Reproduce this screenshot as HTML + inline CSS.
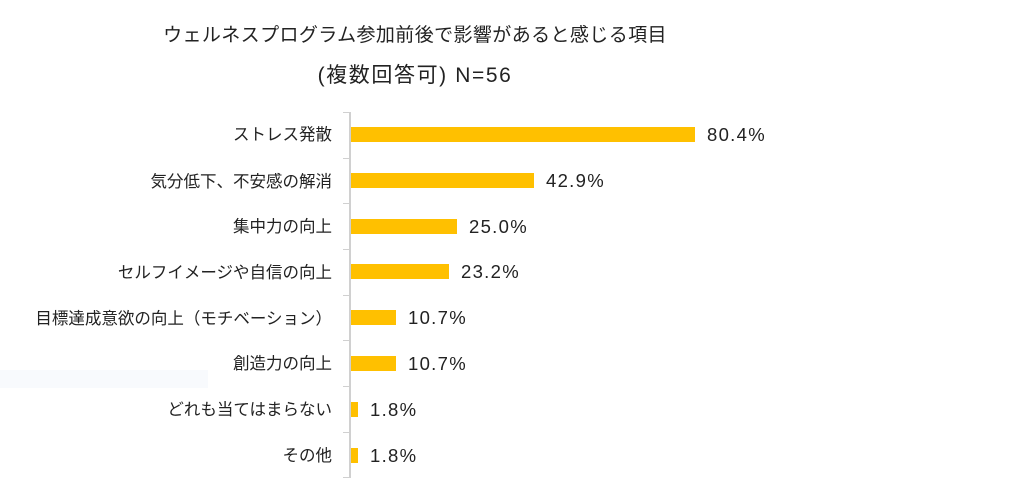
<!DOCTYPE html>
<html><head><meta charset="utf-8"><style>
body{margin:0;width:1012px;height:485px;background:#fff;position:relative;overflow:hidden;font-family:"Liberation Sans","Noto Sans CJK JP",sans-serif;color:#222}
.t{position:absolute;left:0;width:830px;text-align:center;font-size:19px}
.lab{position:absolute;right:680px;font-size:16.5px;white-space:nowrap;line-height:20px}
.bar{position:absolute;left:351px;height:15px;background:#FFC000}
.v{position:absolute;font-size:18.5px;line-height:20px;letter-spacing:1.3px}
.tick{position:absolute;left:343px;width:7px;height:1px;background:#d0d0d0}
</style></head><body>
<div class="t" style="top:20px;letter-spacing:0.4px">ウェルネスプログラム参加前後で影響があると感じる項目</div>
<div class="t" style="top:59px;font-size:21px;letter-spacing:1.6px">(複数回答可) N=56</div>
<div style="position:absolute;left:349px;top:112px;width:2px;height:366px;background:#d0d0d0"></div>
<div class="tick" style="top:112px"></div><div class="tick" style="top:158px"></div><div class="tick" style="top:203px"></div><div class="tick" style="top:249px"></div><div class="tick" style="top:295px"></div><div class="tick" style="top:340px"></div><div class="tick" style="top:386px"></div><div class="tick" style="top:432px"></div><div class="tick" style="top:477px"></div>
<div style="position:absolute;left:0;top:370px;width:208px;height:18px;background:#f8fafd"></div>

<div class="lab" style="top:125px">ストレス発散</div><div class="bar" style="top:127px;width:344px"></div><div class="v" style="left:707px;top:125px">80.4%</div>
<div class="lab" style="top:172px">気分低下、不安感の解消</div><div class="bar" style="top:173px;width:183px"></div><div class="v" style="left:546px;top:171px">42.9%</div>
<div class="lab" style="top:217px">集中力の向上</div><div class="bar" style="top:219px;width:106px"></div><div class="v" style="left:469px;top:217px">25.0%</div>
<div class="lab" style="top:263px">セルフイメージや自信の向上</div><div class="bar" style="top:264px;width:98px"></div><div class="v" style="left:461px;top:262px">23.2%</div>
<div class="lab" style="top:309px">目標達成意欲の向上（モチベーション）</div><div class="bar" style="top:310px;width:45px"></div><div class="v" style="left:408px;top:308px">10.7%</div>
<div class="lab" style="top:354px">創造力の向上</div><div class="bar" style="top:356px;width:45px"></div><div class="v" style="left:408px;top:354px">10.7%</div>
<div class="lab" style="top:400px">どれも当てはまらない</div><div class="bar" style="top:402px;width:7px"></div><div class="v" style="left:370px;top:400px">1.8%</div>
<div class="lab" style="top:446px">その他</div><div class="bar" style="top:448px;width:7px"></div><div class="v" style="left:370px;top:446px">1.8%</div>
</body></html>
